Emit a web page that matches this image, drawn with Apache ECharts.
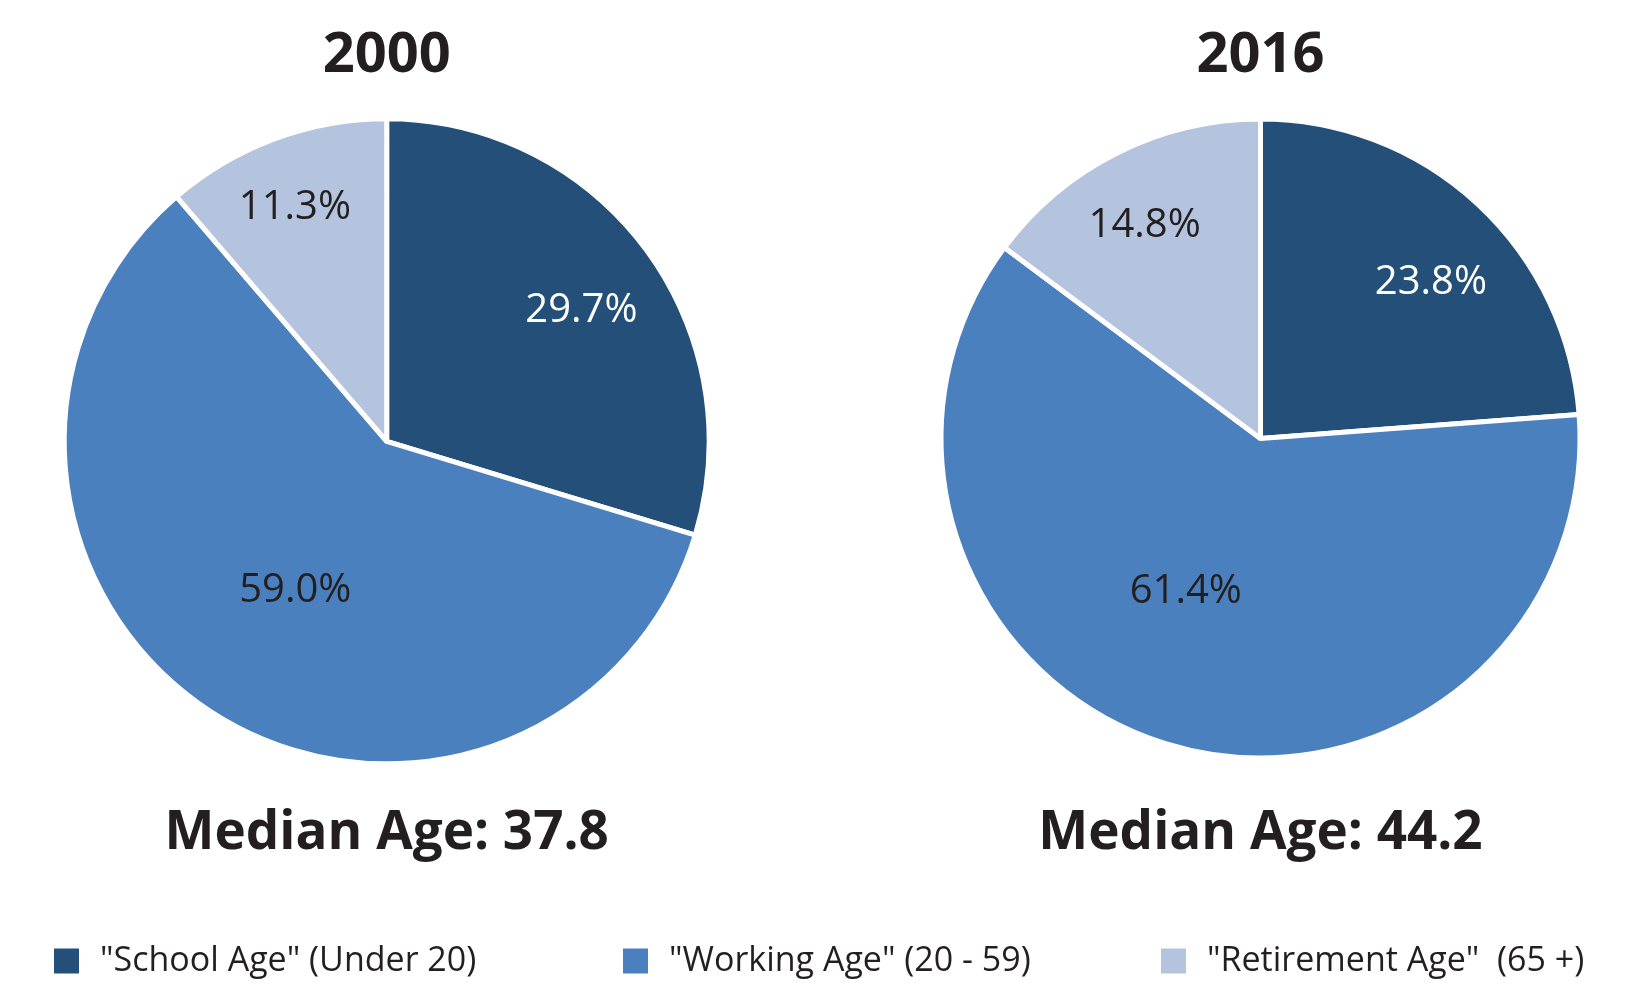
<!DOCTYPE html>
<html>
<head>
<meta charset="utf-8">
<script src="https://cdn.jsdelivr.net/npm/echarts@6/dist/echarts.min.js"></script>
<style>
html,body{margin:0;padding:0;background:#fff;}
#chart{width:1648px;height:1007px;}
</style>
</head>
<body>
<div id="chart"></div>
<script>
// ---- data ----
const categories = ['"School Age" (Under 20)', '"Working Age" (20 - 59)', '"Retirement Age"  (65 +)'];
const years = ['2000', '2016'];
const values2000 = [29.7, 59.0, 11.3];
const values2016 = [23.8, 61.4, 14.8];
const medianAges = ['37.8', '44.2'];

// ---- styles ----
const colors = ['#234f78', '#4b80be', '#b4c3de'];
const labelColors = ['#ffffff', '#231f20', '#231f20'];
const labelRadiusFrac = [0.73, 0.54, 0.78];
const labelNudge2000 = [[7, 8], [3, 5], [-5, 0]];
const labelNudge2016 = [[13, 14], [-27, -11], [-5, 8.5]];
const pies = [
  { cx: 386.7, cy: 441.3, r: 322.5, values: values2000, nudge: labelNudge2000 },
  { cx: 1260.5, cy: 438.5, r: 319.5, values: values2016, nudge: labelNudge2016 }
];
const textColor = '#231f20';
const borderW = 5;

function makeLabelLayout(p) {
  return function (params) {
    const vals = p.values;
    const total = vals.reduce((a, b) => a + b, 0);
    let before = 0;
    for (let i = 0; i < params.dataIndex; i++) before += vals[i];
    const mid = (before + vals[params.dataIndex] / 2) / total * 2 * Math.PI;
    const rr = (p.r - borderW / 2) * labelRadiusFrac[params.dataIndex];
    const n = p.nudge[params.dataIndex];
    return {
      x: p.cx + rr * Math.sin(mid) + n[0],
      y: p.cy - rr * Math.cos(mid) + n[1],
      align: 'center',
      verticalAlign: 'middle'
    };
  };
}

const series = pies.map(function (p) {
  return {
    type: 'pie',
    center: [p.cx, p.cy],
    radius: [0, p.r],
    startAngle: 90,
    clockwise: true,
    avoidLabelOverlap: false,
    animation: false,
    itemStyle: { borderColor: '#ffffff', borderWidth: borderW },
    label: {
      show: true,
      position: 'inside',
      fontFamily: 'Open Sans',
      fontSize: 40,
      formatter: function (d) { return d.value.toFixed(1) + '%'; }
    },
    labelLine: { show: false },
    labelLayout: makeLabelLayout(p),
    emphasis: { disabled: true },
    data: p.values.map(function (v, i) {
      return {
        name: categories[i],
        value: v,
        itemStyle: { color: colors[i] },
        label: { color: labelColors[i] }
      };
    })
  };
});

const legendLefts = [47, 616, 1154];
const legends = categories.map(function (c, i) {
  return {
    data: [c],
    left: legendLefts[i],
    top: 939,
    itemWidth: 27,
    itemHeight: 27,
    icon: 'rect',
    selectedMode: false,
    textStyle: {
      fontFamily: 'Open Sans',
      fontSize: 34,
      color: textColor,
      padding: [0, 0, 0, 15]
    }
  };
});

const graphics = [];
pies.forEach(function (p, i) {
  graphics.push({
    type: 'text',
    x: p.cx, y: 56,
    style: {
      text: years[i],
      font: 'bold 56px "Open Sans"',
      fill: textColor,
      align: 'center',
      verticalAlign: 'middle'
    }
  });
  graphics.push({
    type: 'text',
    x: p.cx, y: 834,
    style: {
      text: 'Median Age: ' + medianAges[i],
      font: 'bold 53px "Open Sans"',
      fill: textColor,
      align: 'center',
      verticalAlign: 'middle'
    }
  });
});

const chart = echarts.init(document.getElementById('chart'), null, { renderer: 'canvas' });
chart.setOption({
  backgroundColor: '#ffffff',
  animation: false,
  color: colors,
  legend: legends,
  graphic: graphics,
  series: series
});
</script>
</body>
</html>
